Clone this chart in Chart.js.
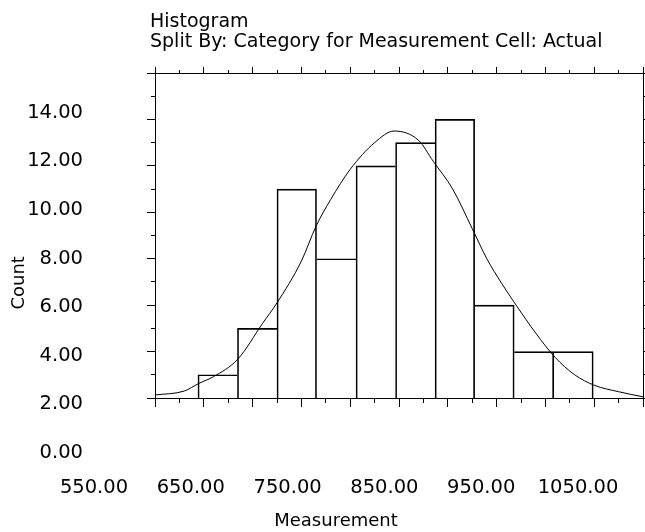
<!DOCTYPE html>
<html>
<head>
<meta charset="utf-8">
<script src="https://cdn.jsdelivr.net/npm/chart.js@4/dist/chart.umd.min.js"></script>
<style>
html, body { margin: 0; padding: 0; background: #fff; }
#wrap { position: relative; width: 645px; height: 532px; }
#wrap canvas { position: absolute; left: 0; top: 0; }
</style>
</head>
<body>
<div id="wrap">
  <canvas id="labels" width="645" height="532"></canvas>
  <canvas id="plot" width="645" height="532"></canvas>
</div>
<script>
// ---- data ----
const binEdges = [644, 684.5, 725, 765.5, 806, 846.5, 887, 927.5, 968, 1008.5, 1049];
const counts = [3, 5, 11, 8, 12, 13, 14, 6, 4, 4];
const curveX = [600, 630, 645, 660, 685, 710, 725, 750, 765, 780, 800, 825, 845, 870, 885, 905, 925, 940, 955, 970, 990, 1010, 1030, 1050, 1075, 1100];
const curveY = [2.13, 2.3, 2.63, 2.92, 3.68, 5.2, 6.1, 7.9, 9.4, 10.55, 11.85, 13.0, 13.5, 13.1, 12.2, 11.0, 9.3, 8.0, 6.95, 6.0, 4.8, 3.75, 3.0, 2.55, 2.27, 2.05];
const xTickLabels = [550, 650, 750, 850, 950, 1050];
const yTickLabels = [0, 2, 4, 6, 8, 10, 12, 14];
const titleText = 'Histogram';
const subtitleText = 'Split By: Category for Measurement Cell: Actual';
const xTitle = 'Measurement';
const yTitle = 'Count';

Chart.defaults.font.family = "'DejaVu Sans', sans-serif";
Chart.defaults.color = '#000';

// ---- label layer ----
new Chart(document.getElementById('labels'), {
  type: 'scatter',
  data: { datasets: [] },
  options: {
    responsive: false,
    animation: false,
    layout: { padding: { left: 0, top: 112.7, right: 67, bottom: 0 } },
    plugins: { legend: { display: false }, tooltip: { enabled: false } },
    scales: {
      x: {
        type: 'linear', position: 'bottom',
        min: xTickLabels[0], max: xTickLabels[xTickLabels.length - 1],
        grid: { display: false, drawTicks: false },
        border: { display: false },
        ticks: { font: { size: 19.5 }, padding: 23, autoSkip: false, maxRotation: 0, minRotation: 0,
                 callback: v => Number(v).toFixed(2) },
        afterBuildTicks: s => { s.ticks = xTickLabels.map(v => ({ value: v })); },
        title: { display: true, text: xTitle, font: { size: 18 }, padding: { top: 0, bottom: 0 } },
        afterFit: s => { s.height = 79; }
      },
      y: {
        type: 'linear', position: 'left',
        min: yTickLabels[0], max: yTickLabels[yTickLabels.length - 1],
        grid: { display: false, drawTicks: false },
        border: { display: false },
        ticks: { font: { size: 19.5 }, padding: 11, autoSkip: false,
                 callback: v => Number(v).toFixed(2) },
        afterBuildTicks: s => { s.ticks = yTickLabels.map(v => ({ value: v })); },
        title: { display: true, text: yTitle, font: { size: 18 }, padding: { top: 9, bottom: 0 } },
        afterFit: s => { s.width = 94; }
      }
    }
  }
});

// ---- plot layer ----
function frameScale(axis, position, min, max, step, tickLength, weight, size, showBorder) {
  return {
    type: 'linear', axis, position, min, max, weight,
    offset: false, beginAtZero: false,
    grid: { display: true, drawOnChartArea: false, drawTicks: true, tickLength,
            color: '#000', tickColor: '#000', lineWidth: 1, tickWidth: 1, offset: false },
    border: { display: showBorder, color: '#000', width: 1 },
    ticks: { display: false, stepSize: step, maxTicksLimit: 100, autoSkip: false },
    afterFit: s => { if (axis === 'x') s.height = size; else s.width = size; }
  };
}

const barData = counts.map((c, i) => ({ x: (binEdges[i] + binEdges[i + 1]) / 2, y: c }));
const curveData = curveX.map((x, i) => ({ x, y: curveY[i] }));

new Chart(document.getElementById('plot'), {
  type: 'bar',
  data: {
    datasets: [
      {
        type: 'line',
        data: curveData,
        borderColor: '#000',
        borderWidth: 1,
        pointRadius: 0,
        cubicInterpolationMode: 'monotone',
        fill: false,
        order: 0
      },
      {
        type: 'bar',
        data: barData,
        backgroundColor: 'rgba(0,0,0,0)',
        borderColor: '#000',
        borderSkipped: false,
        borderWidth: ctx => {
          const i = ctx.dataIndex;
          const n = counts.length;
          const left = (i === 0 || counts[i] > counts[i - 1]) ? 1 : 0;
          const right = (i === n - 1 || counts[i] >= counts[i + 1]) ? 1 : 0;
          return { top: 1, left, right, bottom: 0 };
        },
        barPercentage: 1,
        categoryPercentage: 1,
        order: 1
      }
    ]
  },
  options: {
    responsive: false,
    animation: false,
    layout: { padding: { left: 150, top: 0, right: 0, bottom: 0 } },
    plugins: {
      legend: { display: false },
      tooltip: { enabled: false },
      title: { display: true, text: titleText, align: 'start', color: '#000',
               font: { size: 19, weight: 'normal', lineHeight: 1 }, padding: { top: 12.5, bottom: 0 } },
      subtitle: { display: true, text: subtitleText, align: 'start', color: '#000',
                  font: { size: 19, weight: 'normal', lineHeight: 1 }, padding: { top: 0.8, bottom: 0 } }
    },
    scales: {
      x: frameScale('x', 'bottom', 600, 1100, 50, 9, 1, 134, true),
      xMinor: frameScale('x', 'bottom', 600, 1100, 25, 5, 0, 0, false),
      xTop: frameScale('x', 'top', 600, 1100, 50, 6, 1, 21.7, true),
      xTopMinor: frameScale('x', 'top', 600, 1100, 25, 3, 0, 0, false),
      y: frameScale('y', 'left', 2, 16, 2, 8, 1, 5, true),
      yMinor: frameScale('y', 'left', 2, 16, 1, 4, 0, 0, false),
      yRight: frameScale('y', 'right', 2, 16, 2, 8, 1, 2, true),
      yRightMinor: frameScale('y', 'right', 2, 16, 1, 4, 0, 0, false)
    }
  }
});
</script>
</body>
</html>
